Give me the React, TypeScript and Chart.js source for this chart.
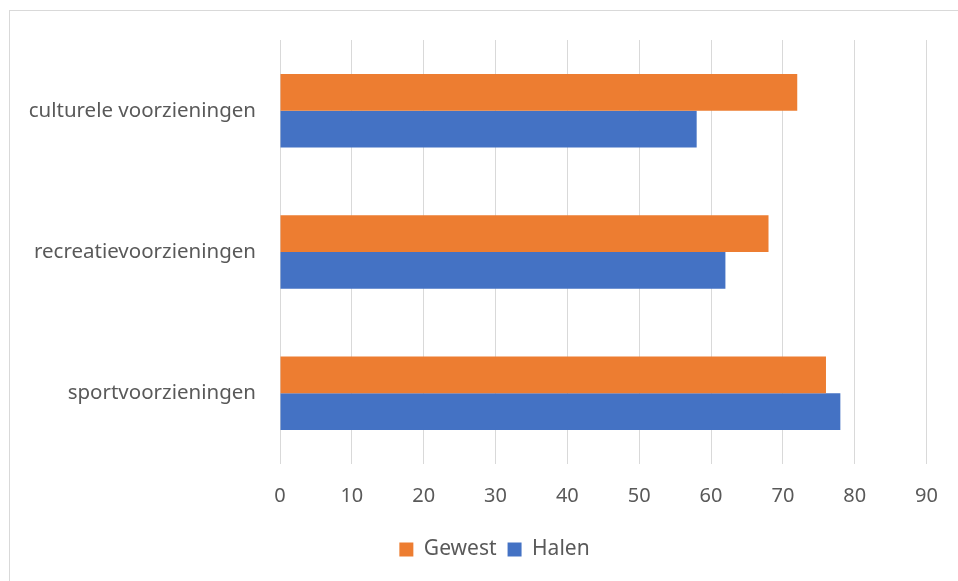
import React, { useEffect, useRef } from "react";
import { Chart, registerables } from "chart.js";

Chart.register(...registerables);

const categories = ["culturele voorzieningen", "recreatievoorzieningen", "sportvoorzieningen"];
const gewestValues = [72, 68, 76];
const halenValues = [58, 62, 78];
const seriesNames = ["Gewest", "Halen"];

const legendShift = {
  id: "legendShift",
  afterLayout(chart: any) {
    if (chart.legend) {
      chart.legend.left = 57;
    }
  },
};

export default function App() {
  const ref = useRef<HTMLCanvasElement | null>(null);
  useEffect(() => {
    if (!ref.current) return;
    Chart.defaults.font.family = "'Noto Sans', sans-serif";
    const chart = new Chart(ref.current, {
      type: "bar",
      data: {
        labels: categories,
        datasets: [
          { label: seriesNames[0], data: gewestValues, backgroundColor: "#ED7D31", borderWidth: 0 },
          { label: seriesNames[1], data: halenValues, backgroundColor: "#4472C4", borderWidth: 0 },
        ],
      },
      options: {
        indexAxis: "y",
        animation: false,
        responsive: false,
        maintainAspectRatio: false,
        layout: { padding: { top: 40, right: 26, left: 0, bottom: 11 } },
        datasets: { bar: { categoryPercentage: 0.52, barPercentage: 1.0 } },
        scales: {
          x: {
            min: 0,
            max: 90,
            ticks: { stepSize: 10, color: "#595959", font: { size: 20 }, padding: 20 },
            grid: { color: "#d9d9d9", lineWidth: 1, drawTicks: false },
            border: { display: false },
          },
          y: {
            ticks: { color: "#595959", font: { size: 20.5 }, padding: 24 },
            grid: { display: false, drawTicks: false },
            border: { display: false },
            afterFit: (scale: any) => {
              scale.width = 280;
            },
          },
        },
        plugins: {
          legend: {
            position: "bottom",
            labels: { boxWidth: 14, boxHeight: 14, color: "#595959", font: { size: 21 }, padding: 11 },
          },
          tooltip: { enabled: false },
        },
      },
      plugins: [legendShift],
    });
    return () => chart.destroy();
  }, []);
  return (
    <div style={{ position: "fixed", left: 0, top: 0, width: 958, height: 581, background: "#fff" }}>
      <div
        style={{
          position: "absolute",
          left: 9,
          top: 10,
          width: 960,
          height: 580,
          border: "1px solid #d9d9d9",
          boxSizing: "border-box",
        }}
      />
      <canvas ref={ref} width={958} height={581} style={{ position: "absolute", left: 0, top: 0 }} />
    </div>
  );
}
